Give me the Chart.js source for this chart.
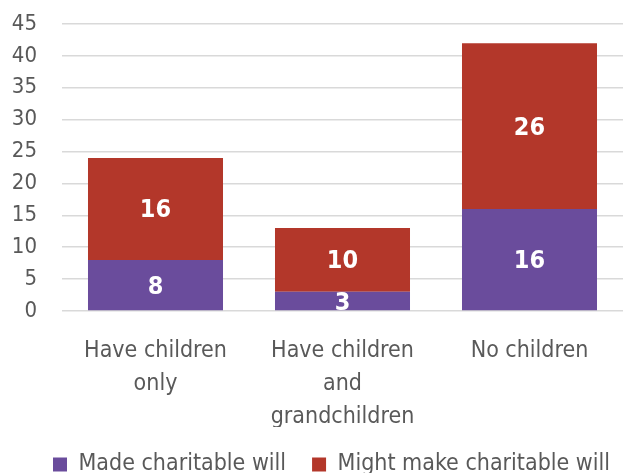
<!DOCTYPE html>
<html><head><meta charset="utf-8">
<script src="https://cdn.jsdelivr.net/npm/chart.js@4"></script>
<style>html,body{margin:0;padding:0;overflow:hidden;background:#fff}#wrap{width:623px;height:473px}</style>
</head><body><div id="wrap"><canvas id="c" width="623" height="473"></canvas></div>
<script>
const categories = [["Have children","only"],["Have children","and","grandchildren"],["No children"]];
const madeWill = [8, 3, 16];
const mightMake = [16, 10, 26];
const seriesNames = ["Made charitable will","Might make charitable will"];
const FONT = "'DejaVu Sans Condensed', 'DejaVu Sans', sans-serif";

const labelPlugin = {
  id: 'barLabels',
  afterLayout(chart) {
    if (chart.legend) { chart.legend.left += 20; chart.legend.right += 20; }
  },
  afterDatasetsDraw(chart) {
    const ctx = chart.ctx, a = chart.chartArea;
    ctx.save();
    ctx.beginPath(); ctx.rect(a.left, a.top, a.right - a.left, a.bottom - a.top); ctx.clip();
    ctx.fillStyle = '#fff';
    ctx.font = 'bold 25px ' + FONT;
    ctx.textAlign = 'center'; ctx.textBaseline = 'middle';
    chart.data.datasets.forEach((ds, i) => {
      chart.getDatasetMeta(i).data.forEach((bar, j) => {
        const y = (bar.y + bar.base) / 2;
        ctx.fillText(String(ds.data[j]), bar.x, y + 2);
      });
    });
    ctx.restore();
  }
};

new Chart(document.getElementById('c'), {
  type: 'bar',
  data: {
    labels: categories,
    datasets: [
      {label: seriesNames[0], data: madeWill, backgroundColor: '#6A4C9C'},
      {label: seriesNames[1], data: mightMake, backgroundColor: '#B3372A'}
    ]
  },
  options: {
    responsive: false, animation: false,
    layout: {padding: {top: 24, left: 0, right: 0, bottom: -13}},
    datasets: {bar: {barPercentage: 0.722, categoryPercentage: 1}},
    scales: {
      x: {stacked: true, grid: {display: false}, border: {display: false},
          afterFit: s => { s.height = 116; },
          ticks: {color: '#595959', font: {family: FONT, size: 23, lineHeight: 1.45}, padding: 15}},
      y: {stacked: true, min: 0, max: 45,
          grid: {color: '#D9D9D9', lineWidth: 1.5, drawTicks: false},
          border: {display: false},
          afterFit: s => { s.width = 62; s.paddingTop = 0; s.paddingBottom = 0; },
          ticks: {stepSize: 5, autoSkip: false, color: '#595959', font: {family: FONT, size: 22}, padding: 25}}
    },
    plugins: {
      legend: {position: 'bottom', labels: {boxWidth: 14, boxHeight: 14, color: '#595959',
               font: {family: FONT, size: 23}, padding: 26}},
      tooltip: {enabled: false}
    }
  },
  plugins: [labelPlugin]
});
</script></body></html>
